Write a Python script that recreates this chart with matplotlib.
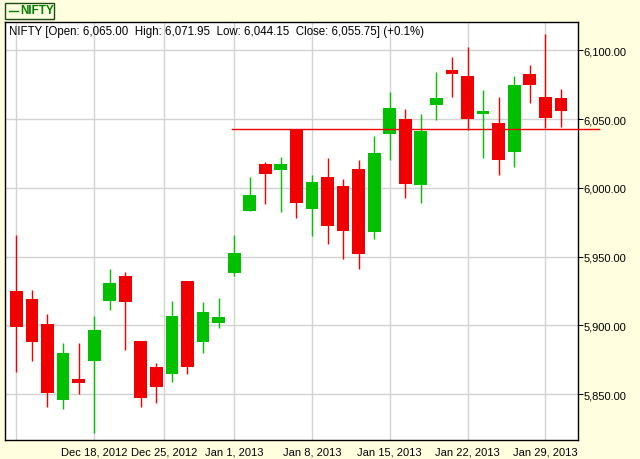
import matplotlib
matplotlib.use("Agg")
import matplotlib.pyplot as plt
from matplotlib.patches import Rectangle
from matplotlib.lines import Line2D
import numpy as np

plt.rcParams['font.family'] = ['Liberation Sans', 'DejaVu Sans']

# ---- data ----
dates = ["Dec 11", "Dec 12", "Dec 13", "Dec 14", "Dec 17", "Dec 18", "Dec 19", "Dec 20",
         "Dec 21", "Dec 24", "Dec 26", "Dec 27", "Dec 28", "Dec 31", "Jan 1", "Jan 2",
         "Jan 3", "Jan 4", "Jan 7", "Jan 8", "Jan 9", "Jan 10", "Jan 11", "Jan 14",
         "Jan 15", "Jan 16", "Jan 17", "Jan 18", "Jan 21", "Jan 22", "Jan 23", "Jan 24",
         "Jan 25", "Jan 28", "Jan 29", "Jan 30"]
opens = [5925, 5919, 5901, 5846, 5861, 5874, 5918, 5936, 5889, 5870, 5865, 5932, 5888, 5902,
         5938, 5983, 6017, 6013, 6043, 5985, 6008, 6001, 6014, 5968, 6039, 6050, 6002, 6060,
         6086, 6081, 6054, 6047, 6026, 6083, 6066, 6065.00]
highs = [5966, 5926, 5908, 5887, 5887, 5907, 5941, 5939, 5889, 5873, 5918, 5932.5, 5917, 5920,
         5966, 6008, 6019, 6022.5, 6043, 6009, 6022, 6006.5, 6020, 6038, 6070, 6057, 6054, 6084,
         6095, 6102, 6071, 6066, 6081, 6089, 6112, 6071.95]
lows = [5866, 5874, 5841, 5839, 5850, 5822, 5911, 5882, 5841, 5844, 5859, 5865, 5880, 5898,
        5936, 5983, 5988, 5982.5, 5978, 5965, 5959, 5948, 5941, 5963, 6020, 5993, 5989, 6049,
        6066, 6042, 6022, 6009, 6015, 6062, 6043.5, 6044.15]
closes = [5899, 5888, 5851, 5880, 5858, 5897, 5931, 5917, 5847, 5855, 5907, 5870, 5910, 5906,
          5953, 5995, 6010, 6017, 5989, 6004, 5972, 5969, 5952, 6025, 6058, 6003, 6041, 6065,
          6083, 6050, 6056, 6020, 6075, 6075, 6051, 6055.75]
resistance_level = 6043
resistance_start_idx = 13.87

tick_positions = [0, 5, 9.5, 14, 19, 24, 29, 34]
tick_labels = ["", "Dec 18, 2012", "Dec 25, 2012", "Jan 1, 2013", "Jan 8, 2013",
               "Jan 15, 2013", "Jan 22, 2013", "Jan 29, 2013"]
y_ticks = [5850, 5900, 5950, 6000, 6050, 6100]

title_text = "NIFTY [Open: 6,065.00  High: 6,071.95  Low: 6,044.15  Close: 6,055.75] (+0.1%)"

# ---- style ----
BG = '#FFFFE0'
RED = '#F00000'
GREEN = '#00C000'
GRID = '#D3D3D3'
px = 0.72  # one pixel in points at dpi 100

fig = plt.figure(figsize=(6.4, 4.6), dpi=100, facecolor=BG)
ax = fig.add_axes([5.3/640, 1-441/460, (577.7-5.3)/640, (441-23.3)/460])
ax.set_facecolor('white')

x = np.arange(len(opens))
ax.set_xlim(-0.71, 36.08)
ax.set_ylim(5816.8, 6120.3)

ax.set_yticks(y_ticks)
ax.set_yticklabels([f"{v:,.2f}" for v in y_ticks])
ax.set_xticks(tick_positions)
ax.set_xticklabels(tick_labels)
ax.yaxis.tick_right()
ax.tick_params(axis='y', length=3.5, width=px, color='black', pad=0.5, labelsize=8, labelcolor='black')
ax.tick_params(axis='x', length=0, pad=5, labelsize=8, labelcolor='black')
ax.grid(True, color=GRID, linewidth=1.4*px, zorder=0)
ax.set_axisbelow(True)
for s in ax.spines.values():
    s.set_color('black')
    s.set_linewidth(1.4*px)

colors = [GREEN if c >= o else RED for o, c in zip(opens, closes)]
ax.vlines(x, lows, highs, colors=colors, linewidth=1.4*px, zorder=2)
bottoms = [min(o, c) for o, c in zip(opens, closes)]
heights = [abs(c - o) for o, c in zip(opens, closes)]
ax.bar(x, heights, bottom=bottoms, width=0.82, color=colors, linewidth=0, zorder=3)

ax.plot([resistance_start_idx, 37.45], [resistance_level, resistance_level],
        color=RED, linewidth=1.4*px, clip_on=False, zorder=4)

ax.text(9/640, 1-32/460, title_text, transform=fig.transFigure, fontsize=8.3,
        va='center', ha='left', color='black')

# legend box
fig.patches.append(Rectangle((5/640, 1-19.5/460), 48.5/640, 15.5/460, transform=fig.transFigure,
                             facecolor=BG, edgecolor='#1A4A1A', linewidth=1.4*px))
fig.lines.append(Line2D([9/640, 18/640], [1-11.5/460, 1-11.5/460], transform=fig.transFigure,
                        color='#008000', linewidth=1.4*px))
fig.text(20/640, 1-11.5/460, "NIFTY", fontsize=8.5, fontweight='bold', color='#008000',
         va='center', ha='left')

fig.savefig('out.png', dpi=100, facecolor=BG)
